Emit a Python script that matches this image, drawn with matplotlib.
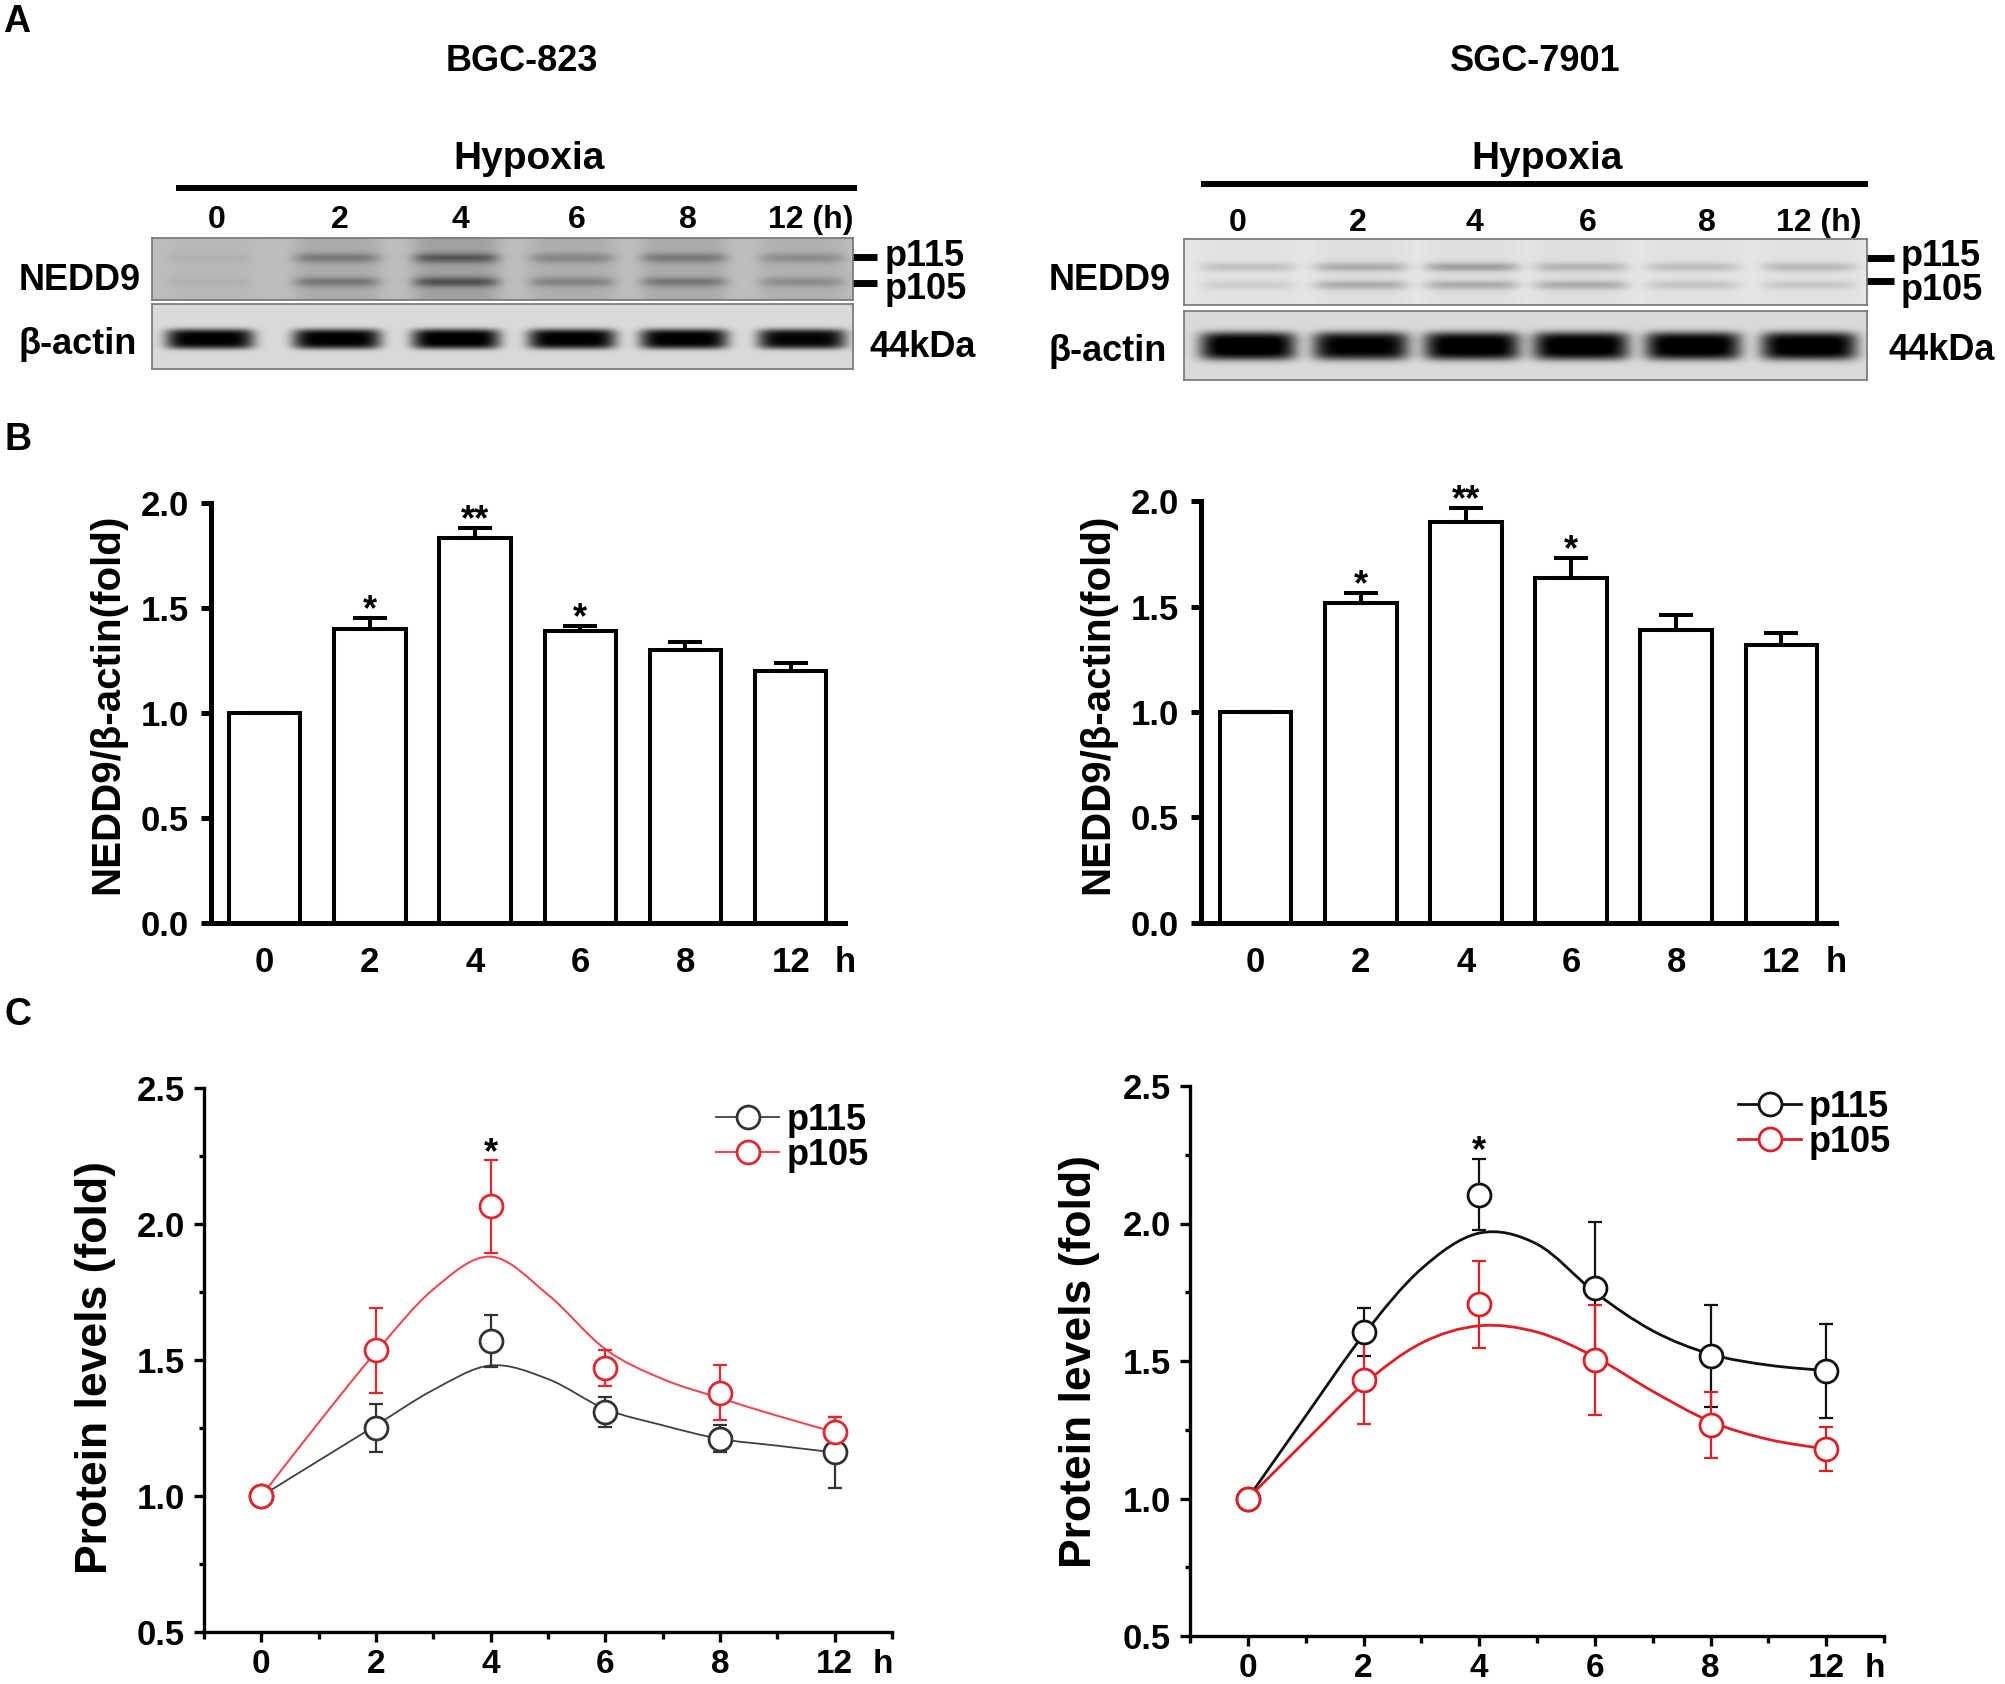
import numpy as np
import matplotlib
matplotlib.use('Agg')
import matplotlib.pyplot as plt
from matplotlib.path import Path
from matplotlib.patches import PathPatch
from matplotlib.lines import Line2D
from matplotlib.ticker import FixedLocator, MultipleLocator

plt.rcParams['font.family'] = ['Liberation Sans', 'DejaVu Sans']
plt.rcParams['font.weight'] = 'bold'
plt.rcParams['axes.labelweight'] = 'bold'

# ------------------------------------------------------------------ data
hours = ['0', '2', '4', '6', '8', '12']
lane_labels = ['0', '2', '4', '6', '8', '12 (h)']
cell_lines = ['BGC-823', 'SGC-7901']

# A  - band darkness (0 = nothing, 1 = black)
bgc_smear = [0.02, 0.07, 0.11, 0.06, 0.07, 0.05]
bgc_p115 = [0.03, 0.20, 0.30, 0.16, 0.20, 0.14]
bgc_p105 = [0.03, 0.21, 0.32, 0.17, 0.21, 0.14]
bgc_actin = [0.86, 0.86, 0.88, 0.86, 0.86, 0.84]
sgc_smear = [0.02, 0.03, 0.03, 0.03, 0.02, 0.02]
sgc_p115 = [0.13, 0.20, 0.25, 0.17, 0.14, 0.16]
sgc_p105 = [0.08, 0.20, 0.20, 0.20, 0.11, 0.10]
sgc_actin = [0.90, 0.86, 0.89, 0.89, 0.89, 0.89]

# B  - NEDD9 / beta-actin (fold)
bgc_ratio = [1.00, 1.40, 1.83, 1.39, 1.30, 1.20]
bgc_ratio_err = [0.0, 0.05, 0.05, 0.02, 0.035, 0.035]
sgc_ratio = [1.00, 1.52, 1.90, 1.635, 1.39, 1.32]
sgc_ratio_err = [0.0, 0.045, 0.07, 0.095, 0.07, 0.056]
ratio_stars = ['', '*', '**', '*', '', '']

# C  - protein levels (fold)
bgc_p115_lvl = [1.00, 1.25, 1.57, 1.31, 1.21, 1.16]
bgc_p115_lvl_err = [0.0, 0.09, 0.095, 0.055, 0.05, 0.13]
bgc_p105_lvl = [1.00, 1.535, 2.065, 1.47, 1.38, 1.235]
bgc_p105_lvl_err = [0.0, 0.155, 0.17, 0.065, 0.10, 0.055]
sgc_p115_lvl = [1.00, 1.605, 2.105, 1.765, 1.517, 1.463]
sgc_p115_lvl_err = [0.0, 0.087, 0.13, 0.24, 0.186, 0.17]
sgc_p105_lvl = [1.00, 1.432, 1.706, 1.502, 1.269, 1.18]
sgc_p105_lvl_err = [0.0, 0.162, 0.157, 0.20, 0.12, 0.08]
# fitted curves read at half steps (0, 0.5, 1, ... 5 on the category axis)
bgc_p115_fit = [1.00, 1.13, 1.26, 1.39, 1.48, 1.43, 1.32, 1.26, 1.21, 1.185, 1.16]
bgc_p105_fit = [1.00, 1.27, 1.53, 1.76, 1.88, 1.74, 1.54, 1.43, 1.36, 1.295, 1.235]
sgc_p115_fit = [1.00, 1.30, 1.595, 1.835, 1.965, 1.925, 1.75, 1.61, 1.525, 1.485, 1.465]
sgc_p105_fit = [1.00, 1.21, 1.415, 1.565, 1.628, 1.605, 1.515, 1.39, 1.28, 1.215, 1.18]
level_stars = ['', '', '*', '', '', '']

# ------------------------------------------------------------------ figure
W, H = 2005, 1684
fig = plt.figure(figsize=(W / 100, H / 100), dpi=100)


def px_axes(x0, y0, x1, y1):
    return fig.add_axes([x0 / W, 1 - y1 / H, (x1 - x0) / W, (y1 - y0) / H])


# overlay in pixel units for the free text of panel A
ov = px_axes(0, 0, W, H)
ov.set_xlim(0, W)
ov.set_ylim(H, 0)
ov.axis('off')


def label(x, cy, s, size, ha='center'):
    # cy is the middle of the capitals
    ov.text(x, cy + 0.358 * size * 100 / 72, s, fontsize=size, ha=ha, va='baseline')


label(3, 19, 'A', 27, ha='left')
label(5, 437, 'B', 27, ha='left')
label(5, 1012, 'C', 27, ha='left')


def blot(rect, bg, lanes, hw, bands, smear):
    x0, y0, x1, y1 = rect
    ax = px_axes(x0, y0, x1, y1)
    xx, yy = np.meshgrid(np.arange(x0, x1) + 0.5, np.arange(y0, y1) + 0.5)
    img = np.full(xx.shape, bg)
    for i, xc in enumerate(lanes):
        dx = np.abs(xx - xc) / hw
        img -= smear[i] * np.exp(-dx ** 6)
        for yc, hh, py, dark in bands:
            dy = np.abs(yy - yc) / hh
            img -= dark[i] * np.exp(-(dx ** 6 + dy ** py))
    ax.imshow(np.clip(img, 0, 1), cmap='gray', vmin=0, vmax=1, aspect='auto',
              interpolation='bilinear')
    ax.set_xticks([])
    ax.set_yticks([])
    for s in ax.spines.values():
        s.set_color('0.45')
        s.set_linewidth(1.2)
    return ax


zero = [0] * 6
panelA = [
    dict(name=cell_lines[0], cx=522, hyp=(176, 857, 187.5), lanes=[210, 337, 456, 572, 684, 802],
         lab_x=[217, 340, 460, 577, 688, 768], lab_y=217,
         nedd=(152, 238, 853, 300), actin=(152, 304, 853, 369),
         nbands=[(258, 5, 2, bgc_p115), (282, 5, 2, bgc_p105)], abands=[(339, 10, 4, bgc_actin)],
         smear=bgc_smear, nbg=0.74, hw=43, labx=80, nedd_y=277, actin_y=341,
         dash=(848, 877, 257, 283), ptx=885, p_y=(253, 286), kda=(870, 344)),
    dict(name=cell_lines[1], cx=1535, hyp=(1201, 1868, 184), lanes=[1248, 1361, 1472, 1581, 1693, 1809],
         lab_x=[1238, 1358, 1474, 1588, 1707, 1776], lab_y=220,
         nedd=(1184, 239, 1867, 305), actin=(1184, 311, 1867, 380),
         nbands=[(267, 4.5, 2, sgc_p115), (285, 4.5, 2, sgc_p105)], abands=[(346, 14, 4, sgc_actin)],
         smear=sgc_smear, nbg=0.90, hw=47, labx=1110, nedd_y=277, actin_y=348,
         dash=(1865, 1894, 258, 281), ptx=1901, p_y=(253, 287), kda=(1889, 347)),
]

for p in panelA:
    label(p['cx'], 58, p['name'], 26)
    x0, x1, yb = p['hyp']
    label((x0 + x1) / 2 + 13, 155, 'Hypoxia', 28)
    ov.plot([x0, x1], [yb, yb], color='black', lw=4.3, solid_capstyle='butt')
    for i, (lx, s) in enumerate(zip(p['lab_x'], lane_labels)):
        label(lx, p['lab_y'], s, 23, ha='left' if i == 5 else 'center')
    blot(p['nedd'], p['nbg'], p['lanes'], p['hw'], p['nbands'], p['smear'])
    blot(p['actin'], 0.85, p['lanes'], p['hw'] + 1, p['abands'], zero)
    label(p['labx'], p['nedd_y'], 'NEDD9', 26)
    label(p['labx'] - 2, p['actin_y'], 'β-actin', 26)
    d0, d1, dy1, dy2 = p['dash']
    ov.plot([d0, d1], [dy1, dy1], color='black', lw=5, solid_capstyle='butt')
    ov.plot([d0, d1], [dy2, dy2], color='black', lw=5, solid_capstyle='butt')
    label(p['ptx'], p['p_y'][0], 'p115', 26, ha='left')
    label(p['ptx'], p['p_y'][1], 'p105', 26, ha='left')
    label(p['kda'][0], p['kda'][1], '44kDa', 26, ha='left')


# ------------------------------------------------------------------ B
def bar_panel(rect, means, errs, xlim, label_px):
    x0, y0, x1, y1 = rect
    ax = px_axes(*rect)
    ax.patch.set_alpha(0)
    x = np.arange(len(hours))
    ax.bar(x, means, width=0.68, color='white', edgecolor='black', linewidth=2.9, zorder=2)
    ax.errorbar(x, means, yerr=[np.zeros(len(errs)), errs], fmt='none', ecolor='black',
                elinewidth=2.9, capsize=12, capthick=2.9, zorder=3)
    for xi, m, e, s in zip(x, means, errs, ratio_stars):
        if s:
            ax.text(xi, m + e - 0.01, s, ha='center', va='baseline', fontsize=26)
    ax.set_xlim(*xlim)
    ax.set_ylim(0, 2.0)
    ax.set_yticks(np.arange(0, 2.01, 0.5))
    ax.set_yticklabels(['%.1f' % v for v in np.arange(0, 2.01, 0.5)])
    ax.set_xticks(x)
    ax.set_xticklabels(hours)
    ax.tick_params(axis='y', length=7.5, width=3.6, pad=8.5, labelsize=25)
    ax.tick_params(axis='x', length=0, pad=17, labelsize=25)
    for s in ['top', 'right']:
        ax.spines[s].set_visible(False)
    for s in ['left', 'bottom']:
        ax.spines[s].set_linewidth(3.6)
    ax.text(xlim[1], -17 * 100 / 72 / (y1 - y0), 'h', transform=ax.get_xaxis_transform(),
            ha='center', va='top', fontsize=25)
    ax.set_ylabel('NEDD9/β-actin(fold)', fontsize=29, va='center')
    ax.yaxis.set_label_coords((label_px[0] - x0) / (x1 - x0), (y1 - label_px[1]) / (y1 - y0))
    return ax


bar_panel((211, 502.5, 845.4, 922.6), bgc_ratio, bgc_ratio_err, (-0.51, 5.52), (107, 704))
bar_panel((1201, 501.4, 1836, 922.8), sgc_ratio, sgc_ratio_err, (-0.52, 5.52), (1097, 704))


# ------------------------------------------------------------------ C
def smooth_curve(ax, xs, ys, color, lw):
    pts = np.column_stack([xs, ys])
    ext = np.vstack([pts[0], pts, pts[-1]])
    verts = [pts[0]]
    codes = [Path.MOVETO]
    for i in range(len(pts) - 1):
        p0, p1, p2, p3 = ext[i], ext[i + 1], ext[i + 2], ext[i + 3]
        verts += [p1 + (p2 - p0) / 6, p2 - (p3 - p1) / 6, p2]
        codes += [Path.CURVE4] * 3
    ax.add_patch(PathPatch(Path(verts, codes), fill=False, edgecolor=color, lw=lw, zorder=2))


def line_panel(rect, series, label_px, legend_px):
    x0, y0, x1, y1 = rect
    ax = px_axes(*rect)
    ax.patch.set_alpha(0)
    x = np.arange(len(hours))
    xfit = np.arange(len(series[0][2])) * 0.5
    handles = []
    for mean, err, fit, mcol, lcol, lw, name in series:
        smooth_curve(ax, xfit, fit, lcol, lw)
        ax.errorbar(x, mean, yerr=err, fmt='none', ecolor=mcol, elinewidth=1.6,
                    capsize=5, capthick=1.6, zorder=3)
        ax.plot(x, mean, 'o', ms=16.5, mfc='white', mec=mcol, mew=2, zorder=4)
        handles.append(Line2D([], [], color=lcol, lw=lw, marker='o', ms=16.5,
                              mfc='white', mec=mcol, mew=2, label=name))
    # significance mark above the highest error bar
    for xi, s in enumerate(level_stars):
        if s:
            top = max(m[0][xi] + m[1][xi] for m in series)
            ax.text(xi, top - 0.01, s, ha='center', va='baseline', fontsize=26)
    ax.set_xlim(-0.5, 5.5)
    ax.set_ylim(0.5, 2.5)
    ax.set_xticks(x)
    ax.set_xticklabels(hours)
    ax.xaxis.set_minor_locator(FixedLocator(np.arange(-0.5, 5.51, 1.0)))
    ax.yaxis.set_major_locator(MultipleLocator(0.5))
    ax.yaxis.set_minor_locator(MultipleLocator(0.25))
    ax.yaxis.set_major_formatter(matplotlib.ticker.FormatStrFormatter('%.1f'))
    ax.tick_params(which='major', length=7, width=2.4, pad=7, labelsize=25)
    ax.tick_params(axis='x', which='major', pad=5.5, labelsize=24)
    ax.tick_params(which='minor', length=5, width=2.4)
    ax.tick_params(axis='y', which='minor', length=3.6)
    for s in ['top', 'right']:
        ax.spines[s].set_visible(False)
    for s in ['left', 'bottom']:
        ax.spines[s].set_linewidth(2.4)
    ax.text(5.42, -12.5 * 100 / 72 / (y1 - y0), 'h', transform=ax.get_xaxis_transform(),
            ha='center', va='top', fontsize=24)
    ax.set_ylabel('Protein levels (fold)', fontsize=32, va='center')
    ax.yaxis.set_label_coords((label_px[0] - x0) / (x1 - x0), (y1 - label_px[1]) / (y1 - y0))
    ax.legend(handles=handles, loc='upper left', frameon=False, fontsize=26,
              bbox_to_anchor=(legend_px[0] / W, 1 - legend_px[1] / H),
              bbox_transform=fig.transFigure, borderpad=0, borderaxespad=0,
              handlelength=1.75, handletextpad=0.2, labelspacing=0.0)
    return ax


line_panel((204, 1088, 892, 1632),
           [(bgc_p115_lvl, bgc_p115_lvl_err, bgc_p115_fit, '#333333', '#404040', 1.3, 'p115'),
            (bgc_p105_lvl, bgc_p105_lvl_err, bgc_p105_fit, '#e3262f', '#ee4a53', 1.5, 'p105')],
           (96, 1367), (716, 1103))
line_panel((1190, 1086, 1884, 1636),
           [(sgc_p115_lvl, sgc_p115_lvl_err, sgc_p115_fit, '#111111', '#111111', 2.0, 'p115'),
            (sgc_p105_lvl, sgc_p105_lvl_err, sgc_p105_fit, '#e01e25', '#e01e25', 2.0, 'p105')],
           (1080, 1361), (1738, 1090))

fig.savefig('out.png', dpi=100)
